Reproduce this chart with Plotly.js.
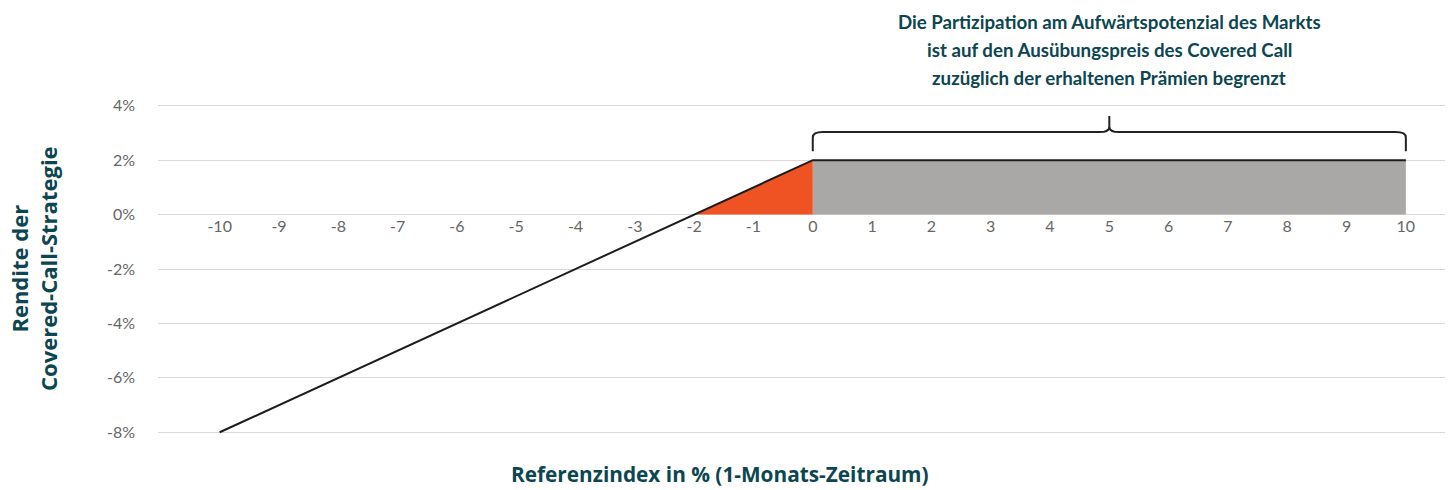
<!DOCTYPE html>
<html>
<head>
<meta charset="utf-8">
<script src="https://cdn.plot.ly/plotly-3.0.1.min.js"></script>
<style>html,body{margin:0;padding:0;background:#fff;}#chart{width:1451px;height:490px;}</style>
</head>
<body>
<div id="chart"></div>
<script>
// Data
const indexReturn = [-10,-9,-8,-7,-6,-5,-4,-3,-2,-1,0,1,2,3,4,5,6,7,8,9,10];
const strategyReturn = [-8,-7,-6,-5,-4,-3,-2,-1,0,1,2,2,2,2,2,2,2,2,2,2,2];
const lossZoneX = [-2,-1,0];
const lossZoneY = [0,1,2];
const capX = [0,1,2,3,4,5,6,7,8,9,10];
const capY = [2,2,2,2,2,2,2,2,2,2,2];
const yTicks = [-8,-6,-4,-2,0,2,4];
const titleLines = ["Die Partizipation am Aufwärtspotenzial des Markts", "ist auf den Ausübungspreis des Covered Call", "zuzüglich der erhaltenen Prämien begrenzt"];
const xTitle = "Referenzindex in % (1-Monats-Zeitraum)";
const yTitle = "Rendite der<br>Covered-Call-Strategie";

const teal = "#0c4650";
const FONT = "Lato, 'Open Sans', sans-serif";
const TFONT = "'Open Sans', Lato, sans-serif";

const yMin = -8.1, yMax = 4.1;

const traces = [
  {x: capX, y: capY, type: 'scatter', mode: 'none', fill: 'tozeroy', fillcolor: '#a9a8a7', hoverinfo: 'skip'},
  {x: lossZoneX, y: lossZoneY, type: 'scatter', mode: 'none', fill: 'tozeroy', fillcolor: '#f05323', hoverinfo: 'skip'},
  {x: indexReturn, y: strategyReturn, type: 'scatter', mode: 'lines', line: {color: '#1c1c1c', width: 2}, hoverinfo: 'skip'}
];

// Brace over the capped region
const x0 = capX[0], x1 = capX[capX.length-1], xm = (x0 + x1) / 2;
const yb = 3.03, yLow = 2.33, yTip = 3.62, dx = 0.17, dy = 0.2;
const bracePath = `M ${x0},${yLow} L ${x0},${yb-dy} Q ${x0},${yb} ${x0+dx},${yb} L ${xm-dx},${yb} Q ${xm},${yb} ${xm},${yb+dy} L ${xm},${yTip} M ${xm},${yb+dy} Q ${xm},${yb} ${xm+dx},${yb} L ${x1-dx},${yb} Q ${x1},${yb} ${x1},${yb-dy} L ${x1},${yLow}`;

const titleAnns = titleLines.map((t, i) => ({
  text: t, xref: 'x', yref: 'paper', x: xm, y: 1, yshift: 81 - i * 28,
  xanchor: 'center', yanchor: 'middle', showarrow: false,
  font: {size: 18.7, color: teal, family: FONT, weight: 'bold'}
}));

const layout = {
  width: 1451, height: 490,
  margin: {l: 158, r: 6, t: 103, b: 55},
  paper_bgcolor: '#fff', plot_bgcolor: '#fff',
  showlegend: false,
  hovermode: false,
  font: {family: FONT},
  xaxis: {
    range: [-11.04, 10.66],
    tickvals: indexReturn,
    ticktext: indexReturn.map(String),
    showgrid: false, zeroline: false, showline: false, ticks: '',
    anchor: 'free', position: (0 - yMin) / (yMax - yMin),
    tickfont: {size: 16, color: '#666666', family: FONT}
  },
  yaxis: {
    range: [yMin, yMax],
    tickvals: yTicks,
    ticktext: yTicks.map(v => v + '%'),
    showgrid: true, gridcolor: '#d9d9d9', gridwidth: 1,
    zeroline: false, showline: false, ticks: '',
    ticklabelstandoff: 22,
    tickfont: {size: 16, color: '#666666', family: FONT}
  },
  shapes: [
    {type: 'path', xref: 'x', yref: 'y', path: bracePath, line: {color: '#222222', width: 2}}
  ],
  annotations: titleAnns.concat([
    {text: xTitle, xref: 'paper', yref: 'paper', x: (720-158)/1287, y: 0, yshift: -39, xanchor: 'center', yanchor: 'middle', showarrow: false,
     font: {size: 20.8, color: teal, family: TFONT, weight: 'bold'}},
    {text: yTitle, xref: 'paper', yref: 'paper', x: (33-158)/1287, y: 0.5, xanchor: 'center', yanchor: 'middle', showarrow: false, textangle: -90,
     font: {size: 22, color: teal, family: TFONT, weight: 'bold'}, align: 'center'}
  ])
};

Plotly.newPlot('chart', traces, layout, {staticPlot: true, displayModeBar: false});
</script>
</body>
</html>
